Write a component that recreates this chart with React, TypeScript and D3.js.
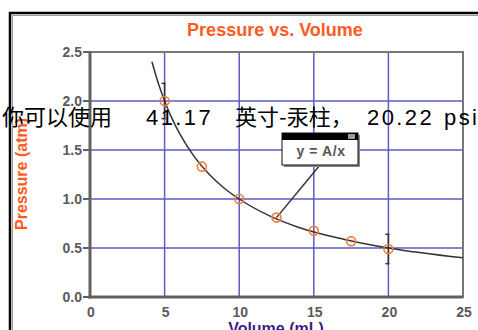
import React, { useEffect, useRef } from 'react';
import * as d3 from 'd3';

// measured points (Volume mL, Pressure atm)
const volumes = [5, 7.5, 10, 12.5, 15, 17.5, 20];
const pressures = [2.0, 1.33, 1.0, 0.81, 0.675, 0.57, 0.49];

// fitted curve y = A/x
const fitX = [4.15, 4.6, 5, 5.5, 6, 7, 8, 9, 10, 12, 14, 17, 20, 25];
const fitY = [2.4, 2.17, 2.0, 1.82, 1.67, 1.43, 1.25, 1.11, 1.0, 0.83, 0.71, 0.59, 0.5, 0.4];

// error bars
const errX = [5, 20];
const errY = [2.0, 0.49];
const errSize = [0.18, 0.15];

const xTicks = [0, 5, 10, 15, 20, 25];
const yTicks = [0, 0.5, 1.0, 1.5, 2.0, 2.5];

const title = 'Pressure vs. Volume';
const xLabel = 'Volume (mL)';
const yLabel = 'Pressure (atm)';
const fitLabel = 'y = A/x';
const fitPoint = 3; // index of the point the annotation points at

const overlay = [
    { text: '你可以使用', x: 2, latin: false },
    { text: '41.17', x: 146, latin: true },
    { text: '英寸-汞柱，', x: 235, latin: false },
    { text: '20.22', x: 367, latin: true },
    { text: 'psi', x: 444, latin: true },
];

const ORANGE = '#ff5a1f';
const GRID = '#5b5bc0';
const AXIS = '#606060';

const App = () => {
    const svgRef = useRef(null);

    useEffect(() => {
        if (!svgRef.current) return;
        const W = 478, H = 330;
        const svg = d3.select(svgRef.current);
        svg.selectAll('*').remove();
        svg.attr('width', W).attr('height', H);

        svg.append('rect').attr('width', W).attr('height', H).attr('fill', '#fff');

        // outer frame
        svg.append('rect')
            .attr('x', 10).attr('y', 13).attr('width', 500).attr('height', 400)
            .attr('fill', 'none').attr('stroke', '#000').attr('stroke-width', 2.5);
        svg.append('rect')
            .attr('x', 12.5).attr('y', 15.5).attr('width', 500).attr('height', 400)
            .attr('fill', 'none').attr('stroke', '#999').attr('stroke-width', 1);

        const x = d3.scaleLinear().domain([0, 25]).range([90, 463]);
        const y = d3.scaleLinear().domain([0, 2.5]).range([297, 52]);

        const g = svg.append('g').style('font-family', '"Liberation Sans", Arial, sans-serif');

        // title
        g.append('text')
            .attr('x', 275).attr('y', 36)
            .attr('text-anchor', 'middle')
            .attr('font-size', 18).attr('font-weight', 'bold')
            .attr('fill', ORANGE)
            .text(title);

        // grid
        g.selectAll('.vgrid')
            .data(xTicks.slice(1, -1))
            .enter().append('line')
            .attr('x1', d => x(d)).attr('x2', d => x(d))
            .attr('y1', y(0)).attr('y2', y(2.5))
            .attr('stroke', GRID).attr('stroke-width', 1.5);
        g.selectAll('.hgrid')
            .data(yTicks.slice(1, -1))
            .enter().append('line')
            .attr('x1', x(0)).attr('x2', x(25))
            .attr('y1', d => y(d)).attr('y2', d => y(d))
            .attr('stroke', GRID).attr('stroke-width', 1.5);

        // plot frame: light top/right, heavy left/bottom
        g.append('rect')
            .attr('x', x(0)).attr('y', y(2.5))
            .attr('width', x(25) - x(0)).attr('height', y(0) - y(2.5))
            .attr('fill', 'none').attr('stroke', '#777').attr('stroke-width', 2);
        g.append('line')
            .attr('x1', x(0)).attr('x2', x(0)).attr('y1', y(2.5)).attr('y2', y(0) + 1.5)
            .attr('stroke', AXIS).attr('stroke-width', 3);
        g.append('line')
            .attr('x1', x(0) - 1.5).attr('x2', x(25)).attr('y1', y(0)).attr('y2', y(0))
            .attr('stroke', AXIS).attr('stroke-width', 3);

        // y ticks + labels
        g.selectAll('.ytick')
            .data(yTicks)
            .enter().append('line')
            .attr('x1', x(0) - 7).attr('x2', x(0))
            .attr('y1', d => y(d)).attr('y2', d => y(d))
            .attr('stroke', AXIS).attr('stroke-width', 2);
        g.selectAll('.ylab')
            .data(yTicks)
            .enter().append('text')
            .attr('x', x(0) - 8).attr('y', d => y(d) + 5)
            .attr('text-anchor', 'end')
            .attr('font-size', 14).attr('font-weight', 'bold')
            .attr('fill', '#5a5a5a')
            .text(d => d.toFixed(1));

        // x labels
        g.selectAll('.xlab')
            .data(xTicks)
            .enter().append('text')
            .attr('x', d => x(d) + 1).attr('y', 317)
            .attr('text-anchor', 'middle')
            .attr('font-size', 14).attr('font-weight', 'bold')
            .attr('fill', '#5a5a5a')
            .text(d => d);

        // axis titles
        g.append('text')
            .attr('x', 276).attr('y', 334)
            .attr('text-anchor', 'middle')
            .attr('font-size', 16).attr('font-weight', 'bold')
            .attr('fill', '#3b1f82')
            .text(xLabel);
        g.append('text')
            .attr('transform', 'translate(27,174) rotate(-90)')
            .attr('text-anchor', 'middle')
            .attr('font-size', 16).attr('font-weight', 'bold')
            .attr('fill', ORANGE)
            .text(yLabel);

        // fit curve
        const line = d3.line().x(d => x(d[0])).y(d => y(d[1])).curve(d3.curveMonotoneX);
        g.append('path')
            .datum(fitX.map((v, i) => [v, fitY[i]]))
            .attr('d', line)
            .attr('fill', 'none').attr('stroke', '#333').attr('stroke-width', 1.5);

        // error bars
        errX.forEach((v, i) => {
            const cx = x(v), top = y(errY[i] + errSize[i]), bot = y(errY[i] - errSize[i]);
            g.append('line').attr('x1', cx).attr('x2', cx).attr('y1', top).attr('y2', bot)
                .attr('stroke', '#333').attr('stroke-width', 1.5);
            [top, bot].forEach(yy => {
                g.append('line').attr('x1', cx - 3).attr('x2', cx + 1).attr('y1', yy).attr('y2', yy)
                    .attr('stroke', '#333').attr('stroke-width', 1.5);
            });
        });

        // annotation leader
        const bx = 282, by = 133, bw = 76, bh = 32;
        g.append('line')
            .attr('x1', bx + bw / 2).attr('y1', by + bh)
            .attr('x2', x(volumes[fitPoint])).attr('y2', y(pressures[fitPoint]))
            .attr('stroke', '#333').attr('stroke-width', 1.5);

        // data points
        g.selectAll('circle')
            .data(volumes.map((v, i) => [v, pressures[i]]))
            .enter().append('circle')
            .attr('cx', d => x(d[0])).attr('cy', d => y(d[1]))
            .attr('r', 4.5)
            .attr('fill', 'none')
            .attr('stroke', '#ff7a33').attr('stroke-width', 1.6);

        // annotation box
        g.append('rect').attr('x', bx + 2).attr('y', by + 2).attr('width', bw).attr('height', bh).attr('fill', '#888');
        g.append('rect').attr('x', bx).attr('y', by).attr('width', bw).attr('height', bh)
            .attr('fill', '#fff').attr('stroke', '#111').attr('stroke-width', 1);
        g.append('rect').attr('x', bx).attr('y', by).attr('width', bw).attr('height', 7).attr('fill', '#000');
        g.append('rect').attr('x', bx + bw - 10).attr('y', by + 1).attr('width', 7).attr('height', 5).attr('fill', '#999');
        g.append('text')
            .attr('x', bx + bw / 2 + 1).attr('y', by + 23)
            .attr('text-anchor', 'middle')
            .attr('font-size', 14).attr('font-weight', 'bold')
            .attr('letter-spacing', 0.6)
            .attr('fill', '#555')
            .text(fitLabel);

        // overlay text
        const ov = svg.append('text').attr('y', 124.5).attr('fill', '#000');
        overlay.forEach(s => {
            ov.append('tspan')
                .attr('x', s.x)
                .style('font-family', s.latin ? '"Liberation Sans", Arial, sans-serif' : '"Noto Sans CJK SC", sans-serif')
                .attr('font-size', 22)
                .attr('letter-spacing', s.latin ? 2.4 : 0)
                .text(s.text);
        });
    }, []);

    return (
        <div style={{ position: 'fixed', left: 0, top: 0, width: 478, height: 330, overflow: 'hidden' }}>
            <svg ref={svgRef}></svg>
        </div>
    );
};

export default App;
